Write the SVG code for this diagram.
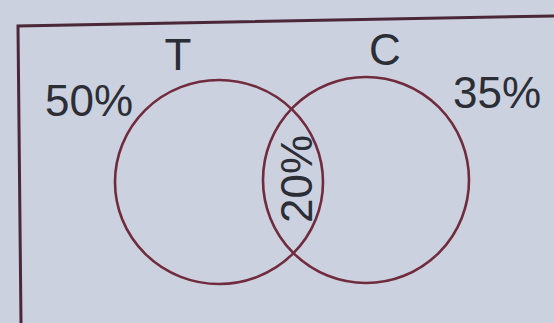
<svg xmlns="http://www.w3.org/2000/svg" width="554" height="323" viewBox="0 0 554 323">
<style>
.bg{fill:#cbd1df}
.frame{fill:none;stroke:#4a2838;stroke-width:3}
.set{fill:none;stroke:#702b3c;stroke-width:2.6}
.lbl{font-family:"Liberation Sans",Arial,sans-serif;font-size:44px;fill:#2c2e36}
</style>
<rect class="bg" x="0" y="0" width="554" height="323"/>
<path id="frame" class="frame" d="M21,323 L18,26 L554,16"/>
<g id="set-T">
<ellipse class="set" cx="219" cy="182" rx="104" ry="102"/>
<text class="lbl" x="178" y="70" text-anchor="middle">T</text>
</g>
<g id="set-C">
<circle class="set" cx="366" cy="180" r="103"/>
<text class="lbl" x="385" y="65" text-anchor="middle">C</text>
</g>
<g id="labels">
<text class="lbl" x="89" y="116" text-anchor="middle">50%</text>
<text class="lbl" x="497" y="108" text-anchor="middle">35%</text>
<text class="lbl" transform="translate(312,179) rotate(-90)" text-anchor="middle">20%</text>
</g>
<g id="connectors"/>
</svg>
